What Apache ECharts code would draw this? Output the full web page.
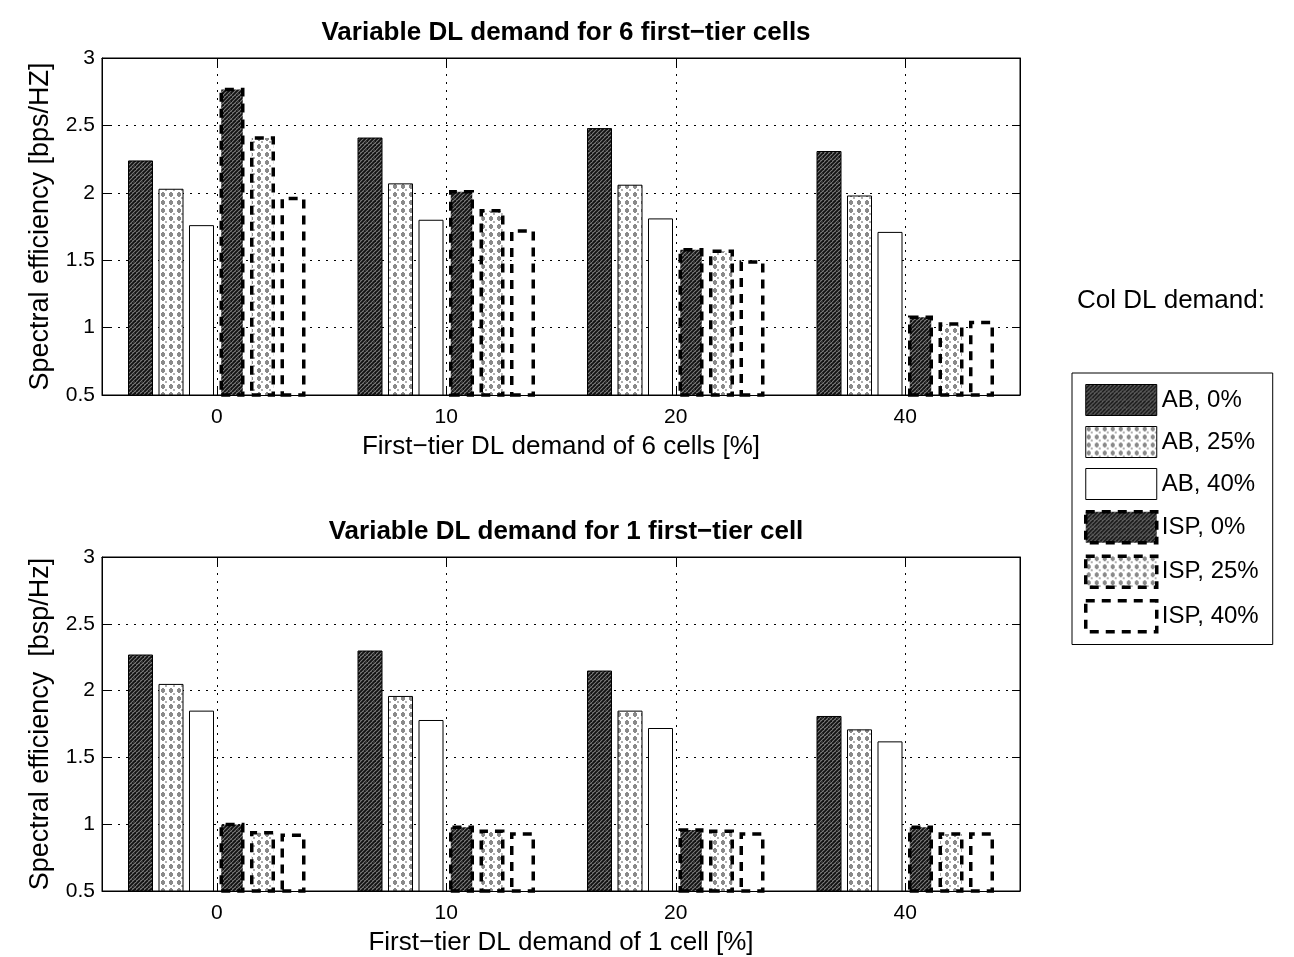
<!DOCTYPE html>
<html>
<head>
<meta charset="utf-8">
<script src="https://cdn.jsdelivr.net/npm/echarts@6/dist/echarts.min.js"></script>
<style>
  html, body { margin: 0; padding: 0; background: #fff; }
  #chart { width: 1294px; height: 957px; }
</style>
</head>
<body>
<div id="chart"></div>
<script>
// Category ticks (first-tier DL demand, %)
const categories = ['0', '10', '20', '40'];
const seriesNames = ['AB, 0%', 'AB, 25%', 'AB, 40%', 'ISP, 0%', 'ISP, 25%', 'ISP, 40%'];
const yTickMin = 0.5;
const yTickMax = 3;
const yTickStep = 0.5;

// Upper panel: 6 first-tier cells
const sixAB0   = [2.24, 2.41, 2.48, 2.31];
const sixAB25  = [2.03, 2.07, 2.06, 1.98];
const sixAB40  = [1.76, 1.80, 1.81, 1.71];
const sixISP0  = [2.78, 2.02, 1.59, 1.09];
const sixISP25 = [2.42, 1.88, 1.58, 1.04];
const sixISP40 = [1.97, 1.73, 1.50, 1.05];

// Lower panel: 1 first-tier cell
const oneAB0   = [2.27, 2.30, 2.15, 1.81];
const oneAB25  = [2.05, 1.96, 1.85, 1.71];
const oneAB40  = [1.85, 1.78, 1.72, 1.62];
const oneISP0  = [1.01, 0.99, 0.97, 0.99];
const oneISP25 = [0.95, 0.96, 0.96, 0.94];
const oneISP40 = [0.93, 0.94, 0.94, 0.94];

// Fill textures
function darkTexture() {
  const c = document.createElement('canvas');
  c.width = 8; c.height = 8;
  const g = c.getContext('2d');
  g.fillStyle = '#808080';
  g.fillRect(0, 0, 8, 8);
  g.strokeStyle = '#111';
  g.lineWidth = 1.9;
  for (let k = -8; k <= 16; k += 4) {
    g.beginPath();
    g.moveTo(k, 8);
    g.lineTo(k + 8, 0);
    g.stroke();
  }
  g.fillStyle = '#333';
  g.fillRect(5, 5, 2, 2);
  return c;
}
function dotTexture() {
  const c = document.createElement('canvas');
  c.width = 8; c.height = 8;
  const g = c.getContext('2d');
  g.fillStyle = '#ffffff';
  g.fillRect(0, 0, 8, 8);
  g.fillStyle = '#8a8a8a';
  g.fillRect(1, 1, 4, 3);
  g.fillRect(2, 0, 2, 5);
  g.fillStyle = '#b0b0b0';
  g.fillRect(5, 5, 2, 2);
  return c;
}
const darkFill = { image: darkTexture(), repeat: 'repeat' };
const dotFill = { image: dotTexture(), repeat: 'repeat' };
const fills = [darkFill, dotFill, '#ffffff', darkFill, dotFill, '#ffffff'];
const dashed = [9, 7];

function barStyle(i) {
  if (i < 3) return { color: fills[i], borderColor: '#000', borderWidth: 1 };
  return { color: fills[i], borderColor: '#000', borderWidth: 3.5, borderType: dashed };
}

const fontFam = '"Liberation Sans", Arial, Helvetica, sans-serif';
const grids = [
  { left: 102, top: 58, width: 918, height: 337 },
  { left: 102, top: 557, width: 918, height: 336 }
];

function mainX(gi, name) {
  return {
    type: 'category', gridIndex: gi, data: categories, position: 'bottom',
    boundaryGap: true,
    axisLine: { show: true, lineStyle: { color: '#000', width: 1 } },
    axisTick: { show: true, inside: true, alignWithLabel: true, length: 8, lineStyle: { color: '#000' } },
    axisLabel: { color: '#000', fontSize: 21, fontFamily: fontFam, margin: 12 },
    splitLine: { show: true, alignWithLabel: true, lineStyle: { color: '#000', type: [2, 6], width: 1 } },
    name: name, nameLocation: 'middle', nameGap: 39,
    nameTextStyle: { color: '#000', fontSize: 26, fontFamily: fontFam }
  };
}
function topX(gi) {
  return {
    type: 'category', gridIndex: gi, data: categories, position: 'top',
    boundaryGap: true,
    axisLine: { show: true, lineStyle: { color: '#000', width: 1 } },
    axisTick: { show: true, inside: true, alignWithLabel: true, length: 8, lineStyle: { color: '#000' } },
    axisLabel: { show: false },
    splitLine: { show: false }
  };
}
function mainY(gi, name) {
  return {
    type: 'value', gridIndex: gi, position: 'left',
    min: yTickMin, max: yTickMax, interval: yTickStep,
    axisLine: { show: true, lineStyle: { color: '#000', width: 1 } },
    axisTick: { show: true, inside: true, length: 8, lineStyle: { color: '#000' } },
    axisLabel: { color: '#000', fontSize: 21, fontFamily: fontFam, margin: 7 },
    splitLine: { show: true, lineStyle: { color: '#000', type: [2, 6], width: 1 } },
    name: name, nameLocation: 'middle', nameGap: 48, nameRotate: 90,
    nameTextStyle: { color: '#000', fontSize: 27, fontFamily: fontFam }
  };
}
function rightY(gi) {
  return {
    type: 'value', gridIndex: gi, position: 'right',
    min: yTickMin, max: yTickMax, interval: yTickStep,
    axisLine: { show: true, lineStyle: { color: '#000', width: 1 } },
    axisTick: { show: true, inside: true, length: 8, lineStyle: { color: '#000' } },
    axisLabel: { show: false },
    splitLine: { show: false }
  };
}

const panelData = [
  [sixAB0, sixAB25, sixAB40, sixISP0, sixISP25, sixISP40],
  [oneAB0, oneAB25, oneAB40, oneISP0, oneISP25, oneISP40]
];
const series = [];
panelData.forEach(function (arrs, gi) {
  arrs.forEach(function (vals, i) {
    series.push({
      name: seriesNames[i], type: 'bar',
      xAxisIndex: gi * 2, yAxisIndex: gi * 2,
      data: vals, barWidth: 25, barGap: '22%',
      itemStyle: barStyle(i), z: 3,
      emphasis: { disabled: true }, animation: false
    });
  });
});

const chart = echarts.init(document.getElementById('chart'), null, { renderer: 'canvas' });
chart.setOption({
  backgroundColor: '#fff',
  animation: false,
  title: [
    { text: 'Variable DL demand for 6 first−tier cells', left: 561, top: 15, textAlign: 'center',
      textStyle: { fontSize: 26, fontWeight: 'bold', color: '#000', fontFamily: fontFam } },
    { text: 'Variable DL demand for 1 first−tier cell', left: 561, top: 514, textAlign: 'center',
      textStyle: { fontSize: 26, fontWeight: 'bold', color: '#000', fontFamily: fontFam } },
    { text: 'Col DL demand:', left: 1072, top: 283,
      textStyle: { fontSize: 26, fontWeight: 'normal', color: '#000', fontFamily: fontFam } }
  ],
  grid: grids.map(function (g) {
    return Object.assign({ show: true, borderColor: '#000', borderWidth: 1, backgroundColor: '#fff' }, g);
  }),
  xAxis: [
    mainX(0, 'First−tier DL demand of 6 cells [%]'), topX(0),
    mainX(1, 'First−tier DL demand of 1 cell [%]'), topX(1)
  ],
  yAxis: [
    mainY(0, 'Spectral efficiency [bps/HZ]'), rightY(0),
    mainY(1, 'Spectral efficiency  [bsp/Hz]'), rightY(1)
  ],
  legend: {
    orient: 'vertical', left: 1072, top: 373,
    itemWidth: 71, itemHeight: 31, itemGap: 10,
    padding: [11, 14, 11, 12],
    borderColor: '#000', borderWidth: 1, backgroundColor: '#fff',
    icon: 'rect',
    selectedMode: false,
    textStyle: { fontSize: 24, color: '#000', fontFamily: fontFam },
    data: seriesNames.map(function (n, i) {
      return { name: n, itemStyle: barStyle(i) };
    })
  },
  series: series
});
</script>
</body>
</html>
